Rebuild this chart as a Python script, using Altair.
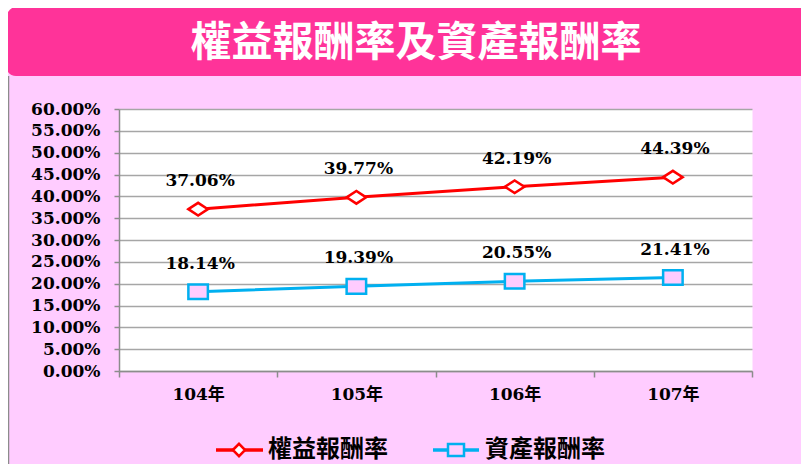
import altair as alt
import pandas as pd

TITLE = "權益報酬率及資產報酬率"
YEARS = ["104年", "105年", "106年", "107年"]
SERIES = ["權益報酬率", "資產報酬率"]
ROE = [37.06, 39.77, 42.19, 44.39]
ROA = [18.14, 19.39, 20.55, 21.41]
Y_TICKS = [0, 5, 10, 15, 20, 25, 30, 35, 40, 45, 50, 55, 60]

RED = "#FF0000"
CYAN = "#00B0F0"
PINK_BG = "#FFCCFF"
HEADER = "#FF3399"
MARKER_FILL = ["#FFFFFF", PINK_BG]
DIAMOND = "M-1,0L0,-0.65L1,0L0,0.65Z"
RECT = "M-1,-0.75L1,-0.75L1,0.75L-1,0.75Z"

NUM_FONT = "DejaVu Serif, Noto Sans CJK TC"
CJK_FONT = "Noto Sans CJK TC"

rows = []
for s, vals in zip(SERIES, [ROE, ROA]):
    for y, v in zip(YEARS, vals):
        rows.append({"year": y, "series": s, "value": v / 100.0, "label": f"{v:.2f}%"})
df = pd.DataFrame(rows)

W, H = 633, 262

x_enc = alt.X(
    "year:N",
    sort=YEARS,
    scale=alt.Scale(type="band", domain=YEARS, paddingInner=0, paddingOuter=0),
    axis=alt.Axis(
        title=None, labelAngle=0, tickBand="extent", grid=False,
        labelFont=NUM_FONT, labelFontWeight="bold", labelFontSize=17,
        labelColor="#000000", tickSize=6, labelPadding=9,
        domainColor="#8C8C8C", tickColor="#8C8C8C", domainWidth=1.5, tickWidth=1.5,
    ),
)
y_enc = alt.Y(
    "value:Q",
    scale=alt.Scale(domain=[0, 0.6], nice=False),
    axis=alt.Axis(
        title=None, format=".2%", values=[t / 100.0 for t in Y_TICKS],
        labelFont=NUM_FONT, labelFontWeight="bold", labelFontSize=17,
        labelColor="#000000", tickSize=5, labelPadding=14,
        domainColor="#8C8C8C", tickColor="#8C8C8C", domainWidth=1.5, tickWidth=1.5,
        gridColor="#A6A6A6", gridWidth=1.5,
    ),
)

color_scale = alt.Scale(domain=SERIES, range=[RED, CYAN])

base = alt.Chart(df).encode(x=x_enc, y=y_enc)

lines = base.mark_line(strokeWidth=3).encode(
    color=alt.Color("series:N", scale=color_scale, legend=None),
    detail="series:N",
)
points = base.mark_point(size=380, strokeWidth=2.5, opacity=1, filled=False).encode(
    stroke=alt.Stroke("series:N", scale=color_scale, legend=None),
    fill=alt.Fill("series:N", scale=alt.Scale(domain=SERIES, range=MARKER_FILL), legend=None),
    shape=alt.Shape("series:N", scale=alt.Scale(domain=SERIES, range=[DIAMOND, RECT]), legend=None),
)
labels = base.mark_text(
    dy=-28, dx=2, font=NUM_FONT, fontSize=17, fontWeight="bold", color="#000000",
    baseline="middle", align="center",
).encode(text="label:N")

one = alt.Data(values=[{"t": TITLE}])

corner = alt.Chart(one).mark_rect(color="#FFFFFF").encode(
    x=alt.value(-112), x2=alt.value(-90), y=alt.value(-102), y2=alt.value(-80)
)
header = alt.Chart(one).mark_rect(
    color=HEADER, cornerRadiusTopLeft=13, cornerRadiusBottomLeft=10
).encode(x=alt.value(-113), x2=alt.value(700), y=alt.value(-103), y2=alt.value(-33))
title = alt.Chart(one).mark_text(
    font=CJK_FONT, fontSize=41, fontWeight="bold", color="#FFFFFF",
    align="center", baseline="middle",
).encode(x=alt.value(297), y=alt.value(-65), text="t:N")
border = alt.Chart(one).mark_rule(color="#8C8C8C", strokeWidth=1.5).encode(
    x=alt.value(-110.5), y=alt.value(-33), y2=alt.value(360)
)

legend_layers = []
LEG_X = [(97, 144, 120, 149), (314, 360, 337, 366)]
LEG_SHAPES = ["diamond", RECT]
LEG_SIZES = [150, 256]
LEG_COLORS = [RED, CYAN]
for i, s in enumerate(SERIES):
    lx0, lx1, mx, tx = LEG_X[i]
    d = alt.Data(values=[{"s": s}])
    legend_layers.append(
        alt.Chart(d).mark_rule(color=LEG_COLORS[i], strokeWidth=3.5).encode(
            x=alt.value(lx0), x2=alt.value(lx1), y=alt.value(341)
        )
    )
    legend_layers.append(
        alt.Chart(d).mark_point(
            shape=LEG_SHAPES[i], size=LEG_SIZES[i], stroke=LEG_COLORS[i],
            fill=MARKER_FILL[i], strokeWidth=2.5, opacity=1,
        ).encode(x=alt.value(mx), y=alt.value(341))
    )
    legend_layers.append(
        alt.Chart(d).mark_text(
            font=CJK_FONT, fontSize=24, fontWeight="bold", color="#000000",
            align="left", baseline="middle",
        ).encode(x=alt.value(tx), y=alt.value(341), text="s:N")
    )

chart = alt.layer(
    corner, header, title, border, lines, points, labels, *legend_layers
).properties(
    width=W, height=H,
    background=PINK_BG,
    autosize=alt.AutoSizeParams(type="none"),
    padding={"left": 111, "top": 101, "right": 49, "bottom": 93},
).configure_view(fill="#FFFFFF", stroke="transparent")

chart.save("out.html", embed_options={"renderer": "svg", "actions": False})
